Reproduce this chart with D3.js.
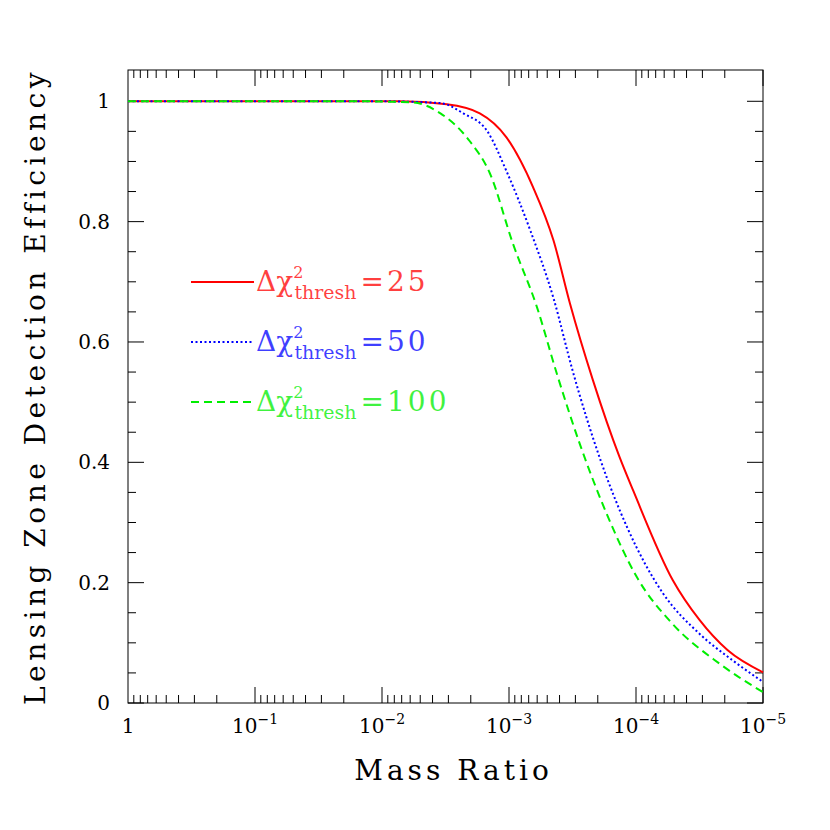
<!DOCTYPE html>
<html>
<head>
<meta charset="UTF-8">
<script src="https://d3js.org/d3.v7.min.js"></script>
<style>body{margin:0;background:#fff}text{font-family:"DejaVu Serif",serif}</style>
</head>
<body>
<svg width="830" height="830"></svg>
<script>
// log10 of mass ratio, efficiency per threshold
var logQ25 = [0, -2.14, -2.51, -2.77, -2.98, -3.19, -3.35, -3.48, -3.66, -3.87, -3.98, -4.29, -4.50, -4.72, -5];
var eff25 = [1, 1, .995, .980, .940, .857, .769, .664, .537, .409, .352, .204, .138, .088, .051];
var logQ50 = [0, -1.98, -2.46, -2.64, -2.83, -2.98, -3.17, -3.35, -3.50, -3.72, -3.93, -4.21, -4.50, -4.76, -5];
var eff50 = [1, 1, .997, .980, .950, .884, .784, .673, .553, .404, .292, .183, .115, .071, .035];
var logQ100 = [0, -1.83, -2.24, -2.46, -2.69, -2.85, -3.03, -3.22, -3.38, -3.56, -3.77, -4.01, -4.29, -4.66, -5];
var eff100 = [1, 1, .998, .980, .934, .880, .764, .658, .545, .429, .314, .208, .131, .065, .018];
var xTickLabels = ["1", "10", "10", "10", "10", "10"];
var xTickExp = ["", "\u22121", "\u22122", "\u22123", "\u22124", "\u22125"];
var yTicks = [0, 0.2, 0.4, 0.6, 0.8, 1];
var series = [
  {name: "25", q: logQ25, vals: eff25, color: "#f00", dash: null},
  {name: "50", q: logQ50, vals: eff50, color: "#00f", dash: "2,2.5"},
  {name: "100", q: logQ100, vals: eff100, color: "#0e0", dash: "8,5"}
];

var svg = d3.select("svg");
var L = 128, R = 763, T = 70, B = 703;
var x = d3.scaleLinear().domain([0, -5]).range([L, R]);
var y = d3.scaleLinear().domain([0, 1.052]).range([B, T]);
var g = svg.append("g");

g.append("rect").attr("x", L).attr("y", T).attr("width", R - L).attr("height", B - T)
  .attr("fill", "none").attr("stroke", "#000").attr("stroke-width", 1);

// x ticks (log)
for (var d = 0; d < 5; d++) {
  for (var m = 1; m <= 9; m++) {
    var lv = -(d + 1) + Math.log10(m);
    var px = x(lv);
    var len = m === 1 ? 16 : 8;
    g.append("line").attr("x1", px).attr("x2", px).attr("y1", B).attr("y2", B - len).attr("stroke", "#000");
    g.append("line").attr("x1", px).attr("x2", px).attr("y1", T).attr("y2", T + len).attr("stroke", "#000");
  }
}
xTickLabels.forEach(function (t, i) {
  var tx = g.append("text").attr("x", x(-i)).attr("y", B + 30).attr("text-anchor", "middle")
    .attr("font-size", 20);
  tx.append("tspan").text(t);
  if (xTickExp[i]) tx.append("tspan").attr("dy", -9).attr("font-size", 14).text(xTickExp[i]);
});

// y ticks
d3.range(0, 1.05, 0.05).forEach(function (v) {
  var major = Math.abs(v * 5 - Math.round(v * 5)) < 1e-6;
  var len = major ? 16 : 8;
  g.append("line").attr("x1", L).attr("x2", L + len).attr("y1", y(v)).attr("y2", y(v)).attr("stroke", "#000");
  g.append("line").attr("x1", R).attr("x2", R - len).attr("y1", y(v)).attr("y2", y(v)).attr("stroke", "#000");
});
yTicks.forEach(function (v) {
  g.append("text").attr("x", L - 18).attr("y", y(v) + 7).attr("text-anchor", "end")
    .attr("font-size", 20).text(v === 0 || v === 1 ? String(v) : v.toFixed(1));
});

// axis titles
g.append("text").attr("x", (L + R) / 2 + 8).attr("y", 780).attr("text-anchor", "middle")
  .attr("font-size", 28).attr("letter-spacing", 4).text("Mass Ratio");
g.append("text").attr("transform", "translate(45," + (B + T) / 2 + ") rotate(-90)")
  .attr("text-anchor", "middle").attr("font-size", 28).attr("letter-spacing", 4.5)
  .text("Lensing Zone Detection Efficiency");

// curves
var line = d3.line().x(function (d) { return x(d[0]); }).y(function (d) { return y(d[1]); })
  .curve(d3.curveMonotoneX);
series.forEach(function (s, k) {
  g.append("path").datum(s.q.map(function (l, i) { return [l, s.vals[i]]; }))
    .attr("d", line).attr("fill", "none").attr("stroke", s.color).attr("stroke-width", 2)
    .attr("stroke-dasharray", s.dash);
  var ly = 282 + k * 60;
  g.append("line").attr("x1", 191).attr("x2", 254).attr("y1", ly).attr("y2", ly)
    .attr("stroke", s.color).attr("stroke-width", 2).attr("stroke-dasharray", s.dash);
  var t = g.append("text").attr("x", 256).attr("y", ly + 9).attr("fill", s.color)
    .attr("fill-opacity", 0.75).attr("font-size", 28);
  t.append("tspan").text("\u0394\u03c7");
  t.append("tspan").attr("font-size", 16).attr("dy", -13).text("2");
  t.append("tspan").attr("font-size", 19).attr("dx", -9).attr("dy", 21).text("thresh");
  t.append("tspan").attr("dy", -8).attr("dx", 4).attr("letter-spacing", 3).text("=" + s.name);
});
</script>
</body>
</html>
